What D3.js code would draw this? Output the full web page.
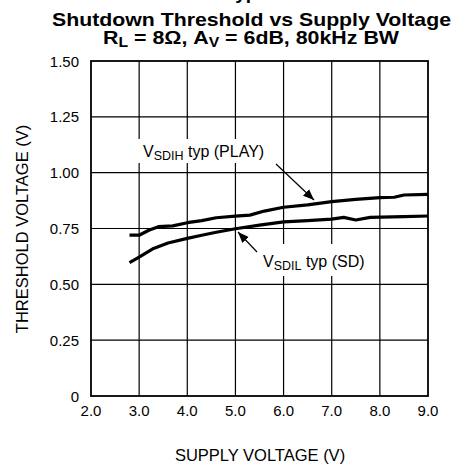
<!DOCTYPE html>
<html><head><meta charset="utf-8">
<script src="https://cdn.jsdelivr.net/npm/d3@7"></script>
<style>body{margin:0;background:#fff}svg{display:block}text{font-family:"Liberation Sans",Arial,sans-serif;fill:#000}</style>
</head><body>
<svg id="c" width="454" height="471"></svg>
<script>
const xTicks = [2.0, 3.0, 4.0, 5.0, 6.0, 7.0, 8.0, 9.0];
const yTicks = [0, 0.25, 0.5, 0.75, 1.0, 1.25, 1.5];
const yTickLabels = ["0", "0.25", "0.50", "0.75", "1.00", "1.25", "1.50"];
const supplyV = [2.8, 3.0, 3.2, 3.4, 3.7, 4.0, 4.3, 4.6, 5.0, 5.3, 5.6, 6.0, 6.5, 7.0, 7.5, 8.0, 8.3, 8.5, 9.0];
const vsdih = [0.72, 0.72, 0.742, 0.758, 0.762, 0.776, 0.785, 0.798, 0.805, 0.81, 0.828, 0.845, 0.856, 0.87, 0.88, 0.888, 0.89, 0.90, 0.903];
const supplyV2 = [2.8, 3.0, 3.3, 3.6, 4.0, 4.3, 4.6, 5.0, 5.5, 6.0, 6.5, 7.0, 7.25, 7.5, 7.8, 8.5, 9.0];
const vsdil = [0.597, 0.622, 0.661, 0.685, 0.706, 0.72, 0.733, 0.749, 0.765, 0.78, 0.785, 0.792, 0.80, 0.788, 0.80, 0.803, 0.806];

const svg = d3.select("#c");
const L = 91, R = 428, T = 61, B = 396;
const x = d3.scaleLinear().domain([2, 9]).range([L, R]);
const y = d3.scaleLinear().domain([0, 1.5]).range([B, T]);

svg.append("defs").append("marker").attr("id","ah").attr("viewBox","0 0 10 10")
  .attr("refX",10).attr("refY",5).attr("markerWidth",11).attr("markerHeight",11)
  .attr("markerUnits","userSpaceOnUse").attr("orient","auto")
  .append("path").attr("d","M0,1 L10,5 L0,9 Z").attr("fill","#000");

// partial top heading (cut off at the top edge, only descenders visible)
svg.append("text").attr("x", 225).attr("y", -1).attr("font-size", 19).attr("font-weight","bold")
  .text("Typical Performance Characteristics");

// titles
svg.append("text").attr("x", 52).attr("y", 26).attr("font-size", 19).attr("font-weight","bold")
  .attr("textLength", 399).attr("lengthAdjust","spacingAndGlyphs")
  .text("Shutdown Threshold vs Supply Voltage");
const t2 = svg.append("text").attr("x", 103).attr("y", 44).attr("font-size", 19).attr("font-weight","bold")
  .attr("textLength", 296).attr("lengthAdjust","spacingAndGlyphs");
t2.append("tspan").text("R");
t2.append("tspan").attr("font-size", 14).attr("dy", 3).text("L");
t2.append("tspan").attr("dy", -3).text(" = 8Ω, A");
t2.append("tspan").attr("font-size", 14).attr("dy", 3).text("V");
t2.append("tspan").attr("dy", -3).text(" = 6dB, 80kHz BW");

// grid
const g = svg.append("g");
g.selectAll(".vx").data(xTicks.slice(1, -1)).join("line")
  .attr("x1", d => x(d)).attr("x2", d => x(d)).attr("y1", T).attr("y2", B)
  .attr("stroke", "#000").attr("stroke-width", 1.2);
g.selectAll(".hy").data(yTicks.slice(1, -1)).join("line")
  .attr("y1", d => y(d)).attr("y2", d => y(d)).attr("x1", L).attr("x2", R)
  .attr("stroke", "#000").attr("stroke-width", 1.2);

// tick labels
svg.selectAll(".yl").data(yTicks).join("text")
  .attr("x", 79).attr("y", d => y(d) + 5.5).attr("text-anchor", "end").attr("font-size", 15)
  .text((d, i) => yTickLabels[i]);
svg.selectAll(".xl").data(xTicks).join("text")
  .attr("x", d => x(d)).attr("y", 416).attr("text-anchor", "middle").attr("font-size", 15)
  .text(d => d.toFixed(1));

// axis titles
svg.append("text").attr("x", 260).attr("y", 461).attr("text-anchor", "middle").attr("font-size", 16.5)
  .text("SUPPLY VOLTAGE (V)");
svg.append("text").attr("transform", "translate(28,229) rotate(-90)").attr("text-anchor", "middle").attr("font-size", 16.5)
  .text("THRESHOLD VOLTAGE (V)");

// curves
const line = d3.line().x(d => x(d[0])).y(d => y(d[1]));
svg.append("path").datum(supplyV.map((v, i) => [v, vsdih[i]])).attr("d", line)
  .attr("fill", "none").attr("stroke", "#000").attr("stroke-width", 3.2).attr("stroke-linejoin","round");
svg.append("path").datum(supplyV2.map((v, i) => [v, vsdil[i]])).attr("d", line)
  .attr("fill", "none").attr("stroke", "#000").attr("stroke-width", 3.2).attr("stroke-linejoin","round");

// label boxes
svg.append("rect").attr("x", 135).attr("y", 139).attr("width", 146).attr("height", 24).attr("fill", "#fff");
svg.append("rect").attr("x", 259).attr("y", 244).attr("width", 120).attr("height", 32).attr("fill", "#fff");

const l1 = svg.append("text").attr("x", 143).attr("y", 157).attr("font-size", 16);
l1.append("tspan").text("V");
l1.append("tspan").attr("font-size", 12.5).attr("dy", 3).text("SDIH");
l1.append("tspan").attr("dy", -3).text(" typ (PLAY)");
const l2 = svg.append("text").attr("x", 263).attr("y", 267).attr("font-size", 16);
l2.append("tspan").text("V");
l2.append("tspan").attr("font-size", 12.5).attr("dy", 3).text("SDIL");
l2.append("tspan").attr("dy", -3).text(" typ (SD)");

// arrows
svg.append("line").attr("x1", 276).attr("y1", 164).attr("x2", 314).attr("y2", 200)
  .attr("stroke", "#000").attr("stroke-width", 1.2).attr("marker-end", "url(#ah)");
svg.append("line").attr("x1", 257).attr("y1", 252).attr("x2", 238).attr("y2", 232)
  .attr("stroke", "#000").attr("stroke-width", 1.2).attr("marker-end", "url(#ah)");

// frame
svg.append("rect").attr("x", L).attr("y", T).attr("width", R - L).attr("height", B - T)
  .attr("fill", "none").attr("stroke", "#000").attr("stroke-width", 1.8);
</script>
</body></html>
